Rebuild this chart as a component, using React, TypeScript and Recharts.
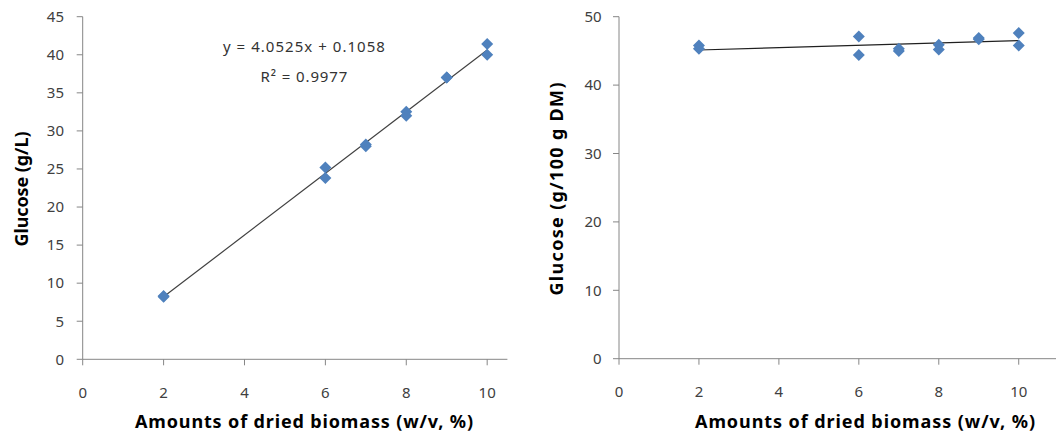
import React from 'react';
import { ScatterChart, Scatter, XAxis, YAxis, ReferenceLine, ReferenceDot, Label } from 'recharts';

// ---- data ----
const xValues = [2, 2, 6, 6, 7, 7, 8, 8, 9, 9, 10, 10];
const glucoseGL = [8.3, 8.2, 25.2, 23.8, 28.2, 28.0, 32.5, 32.0, 37.0, 37.0, 41.4, 40.0];
const glucoseDM = [45.8, 45.3, 47.1, 44.4, 45.3, 45.0, 45.9, 45.2, 46.9, 46.7, 47.6, 45.8];

const xTicks = [0, 2, 4, 6, 8, 10];
const yTicksLeft = [0, 5, 10, 15, 20, 25, 30, 35, 40, 45];
const yTicksRight = [0, 10, 20, 30, 40, 50];

const slope = 4.0525;
const intercept = 0.1058;
const eqText = 'y = 4.0525x  + 0.1058';
const r2Text = 'R\u00B2 = 0.9977';
const trendRightStart = { x: 2, y: 45.13 };
const trendRightEnd = { x: 10, y: 46.5 };

const leftData = xValues.map((x, i) => ({ x, y: glucoseGL[i] }));
const rightData = xValues.map((x, i) => ({ x, y: glucoseDM[i] }));

const FONT = '"Noto Sans", "DejaVu Sans", sans-serif';
const AXIS = '#868686';
const TICK = { fill: '#404040', fontSize: 15, fontFamily: FONT };
const MARK = '#4F81BD';

const Diamond = (props: any) => {
  const { cx, cy } = props;
  if (cx == null || cy == null) return null;
  const s = 6;
  return (
    <polygon
      points={`${cx},${cy - s} ${cx + s},${cy} ${cx},${cy + s} ${cx - s},${cy}`}
      fill={MARK}
    />
  );
};

const yTitle = (text: string, x: number, y: number, len: number) => () => (
  <text
    x={x}
    y={y}
    transform={`rotate(-90 ${x} ${y})`}
    textAnchor="middle"
    fontFamily={FONT}
    fontWeight="bold"
    fontSize={18}
    fill="#000"
    textLength={len}
    lengthAdjust="spacing"
  >
    {text}
  </text>
);

const xTitle = (text: string, x: number, y: number, len: number) => () => (
  <text
    x={x}
    y={y}
    textAnchor="middle"
    fontFamily={FONT}
    fontWeight="bold"
    fontSize={18}
    fill="#000"
    textLength={len}
    lengthAdjust="spacing"
  >
    {text}
  </text>
);

const eqLabel = (text: string, len: number) => (props: any) => {
  const vb = props.viewBox || { x: 0, y: 0, width: 0, height: 0 };
  const cx = vb.x + vb.width / 2;
  const cy = vb.y + vb.height / 2;
  return (
    <text
      x={cx}
      y={cy}
      dy="0.35em"
      textAnchor="middle"
      fontFamily={FONT}
      fontSize={15}
      fill="#333"
      textLength={len}
      lengthAdjust="spacing"
    >
      {text}
    </text>
  );
};

export default function App() {
  return (
    <div
      style={{
        position: 'absolute',
        left: 0,
        top: 0,
        width: 1056,
        height: 435,
        overflow: 'hidden',
        background: '#fff',
      }}
    >
      <div style={{ position: 'absolute', left: 0, top: 0 }}>
        <ScatterChart width={530} height={435} margin={{ top: 16.7, right: 22.6, bottom: 0, left: 0 }}>
          <XAxis
            type="number"
            dataKey="x"
            domain={[0, 10.5]}
            ticks={xTicks}
            interval={0}
            height={75.7}
            tick={TICK}
            tickSize={6}
            tickMargin={22}
            axisLine={{ stroke: AXIS }}
            tickLine={{ stroke: AXIS }}
          >
            <Label content={xTitle('Amounts of dried biomass (w/v, %)', 304, 428, 338)} />
          </XAxis>
          <YAxis
            type="number"
            dataKey="y"
            domain={[0, 45]}
            ticks={yTicksLeft}
            interval={0}
            width={82.7}
            tick={TICK}
            tickSize={6}
            tickMargin={12.7}
            axisLine={{ stroke: AXIS }}
            tickLine={{ stroke: AXIS }}
          >
            <Label content={yTitle('Glucose (g/L)', 28, 189, 115)} />
          </YAxis>
          <Scatter data={leftData} shape={Diamond} isAnimationActive={false} />
          <ReferenceLine
            segment={[
              { x: 2, y: slope * 2 + intercept },
              { x: 10, y: slope * 10 + intercept },
            ]}
            stroke="#404040"
            strokeWidth={1.2}
          />
          <ReferenceDot x={5.47} y={41.0} r={1} fill="none" stroke="none" label={{ content: eqLabel(eqText, 162) }} />
          <ReferenceDot x={5.47} y={37.16} r={1} fill="none" stroke="none" label={{ content: eqLabel(r2Text, 87) }} />
        </ScatterChart>
      </div>
      <div style={{ position: 'absolute', left: 530, top: 0 }}>
        <ScatterChart width={540} height={435} margin={{ top: 16.7, right: 11.3, bottom: 0, left: 0 }}>
          <XAxis
            type="number"
            dataKey="x"
            domain={[0, 11]}
            ticks={xTicks}
            interval={0}
            height={76.3}
            tick={TICK}
            tickSize={6}
            tickMargin={22}
            axisLine={{ stroke: AXIS }}
            tickLine={{ stroke: AXIS }}
          >
            <Label content={xTitle('Amounts of dried biomass (w/v, %)', 335, 428, 340)} />
          </XAxis>
          <YAxis
            type="number"
            dataKey="y"
            domain={[0, 50]}
            ticks={yTicksRight}
            interval={0}
            width={89}
            tick={TICK}
            tickSize={6}
            tickMargin={11.3}
            axisLine={{ stroke: AXIS }}
            tickLine={{ stroke: AXIS }}
          >
            <Label content={yTitle('Glucose (g/100 g DM)', 33, 189, 213)} />
          </YAxis>
          <Scatter data={rightData} shape={Diamond} isAnimationActive={false} />
          <ReferenceLine segment={[trendRightStart, trendRightEnd]} stroke="#202020" strokeWidth={1.2} />
        </ScatterChart>
      </div>
    </div>
  );
}
